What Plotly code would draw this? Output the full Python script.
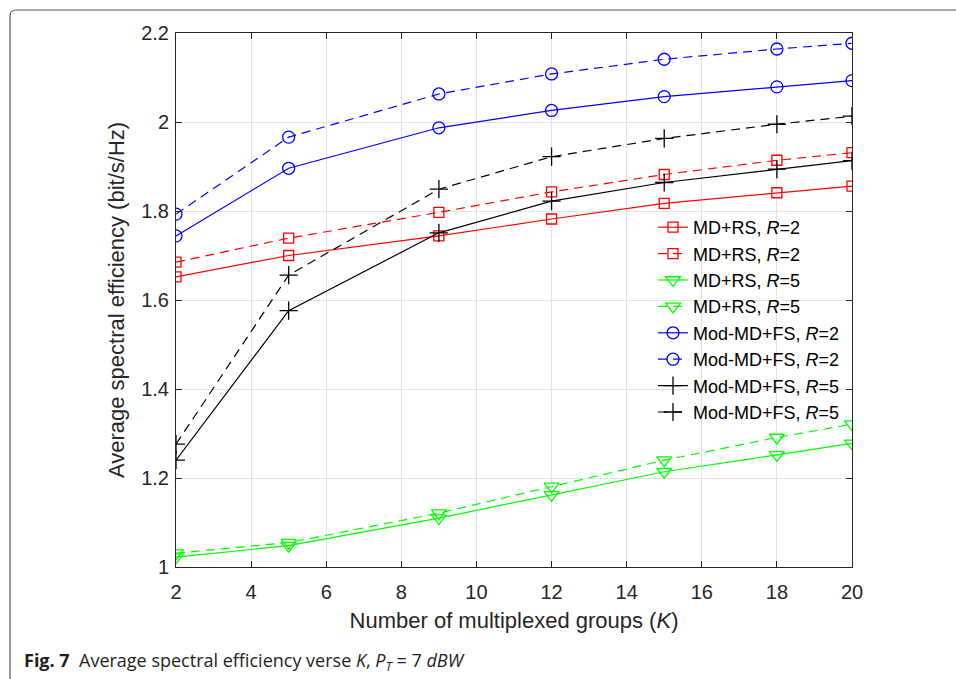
import plotly.graph_objects as go

K = [2, 5, 9, 12, 15, 18, 20]
md_rs_r2_solid = [1.652, 1.700, 1.744, 1.782, 1.817, 1.841, 1.856]
md_rs_r2_dash = [1.685, 1.739, 1.797, 1.843, 1.882, 1.914, 1.931]
md_rs_r5_solid = [1.022, 1.048, 1.110, 1.162, 1.214, 1.252, 1.278]
md_rs_r5_dash = [1.031, 1.055, 1.121, 1.181, 1.240, 1.291, 1.321]
mod_r2_solid = [1.744, 1.896, 1.987, 2.026, 2.057, 2.079, 2.093]
mod_r2_dash = [1.793, 1.966, 2.063, 2.108, 2.141, 2.164, 2.177]
mod_r5_solid = [1.240, 1.576, 1.751, 1.822, 1.864, 1.894, 1.913]
mod_r5_dash = [1.276, 1.656, 1.849, 1.922, 1.963, 1.995, 2.013]

x_ticks = [2, 4, 6, 8, 10, 12, 14, 16, 18, 20]
y_ticks = [1, 1.2, 1.4, 1.6, 1.8, 2, 2.2]
y_tick_labels = ["1", "1.2", "1.4", "1.6", "1.8", "2", "2.2"]

series = [
    ("MD+RS, <i>R</i>=2", md_rs_r2_solid, "#ff0000", "solid", "square-open", 10),
    ("MD+RS, <i>R</i>=2", md_rs_r2_dash, "#ff0000", "9px,6px", "square-open", 10),
    ("MD+RS, <i>R</i>=5", md_rs_r5_solid, "#00ff00", "solid", "triangle-down-open", 13),
    ("MD+RS, <i>R</i>=5", md_rs_r5_dash, "#00ff00", "9px,6px", "triangle-down-open", 13),
    ("Mod-MD+FS, <i>R</i>=2", mod_r2_solid, "#0000ff", "solid", "circle-open", 12),
    ("Mod-MD+FS, <i>R</i>=2", mod_r2_dash, "#0000ff", "9px,6px", "circle-open", 12),
    ("Mod-MD+FS, <i>R</i>=5", mod_r5_solid, "#000000", "solid", "cross-thin-open", 13),
    ("Mod-MD+FS, <i>R</i>=5", mod_r5_dash, "#000000", "9px,6px", "cross-thin-open", 13),
]

fig = go.Figure()
for name, vals, color, dash, sym, size in series:
    fig.add_trace(go.Scatter(
        x=K, y=vals, name=name, mode="lines+markers",
        line=dict(color=color, width=1.2, dash=dash),
        marker=dict(symbol=sym, size=size, color=color,
                    line=dict(color=color, width=1.3)),
    ))

W, H = 956, 679
L, R, T, B = 176, 852, 33, 567


def px(xp):
    return (xp - L) / (R - L)


def py(yp):
    return (B - yp) / (B - T)


axis_color = "#262626"
grid_color = "#e3e3e3"
font_family = "Liberation Sans, Arial, Helvetica, sans-serif"

fig.update_layout(
    width=W, height=H,
    margin=dict(l=L, r=W - R, t=T, b=H - B),
    paper_bgcolor="white", plot_bgcolor="white",
    font=dict(family=font_family, color=axis_color, size=20),
    showlegend=True,
    legend=dict(
        x=px(653), y=py(209), xanchor="left", yanchor="top",
        bgcolor="rgba(0,0,0,0)", borderwidth=0,
        font=dict(size=18, color="#000000", family=font_family),
        tracegroupgap=0,
    ),
    xaxis=dict(
        range=[2, 20], tickvals=x_ticks, ticktext=[str(v) for v in x_ticks],
        showgrid=True, gridcolor=grid_color, gridwidth=1,
        showline=True, linecolor=axis_color, linewidth=1, mirror="allticks",
        ticks="inside", ticklen=6, tickcolor=axis_color,
        zeroline=False, ticklabelstandoff=7,
        tickfont=dict(size=20, color=axis_color),
        title=dict(text="Number of multiplexed groups (<i>K</i>)",
                   font=dict(size=22, color=axis_color), standoff=10),
    ),
    yaxis=dict(
        range=[1, 2.2], tickvals=y_ticks, ticktext=y_tick_labels,
        showgrid=True, gridcolor=grid_color, gridwidth=1,
        showline=True, linecolor=axis_color, linewidth=1, mirror="allticks",
        ticks="inside", ticklen=6, tickcolor=axis_color,
        zeroline=False, ticklabelstandoff=2,
        tickfont=dict(size=20, color=axis_color),
        title=dict(text="Average spectral efficiency (bit/s/Hz)",
                   font=dict(size=22, color=axis_color), standoff=10),
    ),
)

# page frame (rounded corner at top-left)
fig.add_shape(
    type="path", xref="paper", yref="paper",
    path=(f"M {px(10)},{py(H + 5)} L {px(10)},{py(16)} "
          f"Q {px(10)},{py(10)} {px(16)},{py(10)} L {px(W + 5)},{py(10)}"),
    line=dict(color="#555555", width=1.2),
    layer="above",
)

fig.add_annotation(
    xref="paper", yref="paper", x=px(22), y=py(661),
    xanchor="left", yanchor="middle", showarrow=False,
    text=("<b>Fig. 7</b>  Average spectral efficiency verse <i>K</i>, "
          "<i>P<sub>T</sub></i> = 7 <i>dBW</i>"),
    font=dict(family="Open Sans, Noto Sans, sans-serif", size=18, color="#231f20"),
)

fig.write_html("out.html")
